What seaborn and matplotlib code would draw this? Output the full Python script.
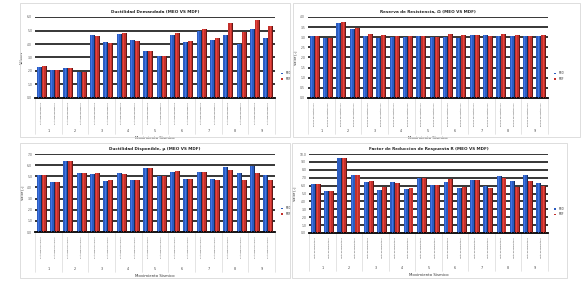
import numpy as np
import pandas as pd
import matplotlib
matplotlib.use("Agg")
import matplotlib.pyplot as plt
import seaborn as sns
from matplotlib.patches import Rectangle
from matplotlib.transforms import blended_transform_factory

sns.set_style("white")
plt.rcParams['font.family'] = ['DejaVu Sans']

sismos = ["1", "2", "3", "4", "5", "6", "7", "8", "9"]
metodos = ["MEO", "MDF"]

# Panel 1: Ductilidad Demandada
dd_labels = ["Ductilidad Demandada X", "Ductilidad Demandada Y"]
dd_meo = [2.30, 2.05, 2.25, 1.90, 4.70, 4.12, 4.77, 4.27, 3.46, 3.09, 4.64, 4.15, 4.99, 4.27, 4.64, 4.00, 5.11, 4.47]
dd_mdf = [2.35, 2.05, 2.25, 1.90, 4.57, 4.05, 4.79, 4.20, 3.46, 3.09, 4.81, 4.20, 5.09, 4.44, 5.56, 4.91, 5.75, 5.33]

# Panel 2: Reserva de Resistencia
rr_labels = ["Reserva de Resistencia ΩX", "Reserva de Resistencia ΩY"]
rr_meo = [3.04, 2.94, 3.72, 3.43, 3.08, 2.95, 2.99, 2.99, 3.04, 2.99, 3.00, 2.98, 3.13, 3.13, 3.08, 3.08, 3.08, 3.04]
rr_mdf = [3.04, 2.94, 3.75, 3.45, 3.14, 3.13, 3.05, 3.05, 3.04, 3.03, 3.14, 3.13, 3.13, 3.08, 3.15, 3.13, 3.08, 3.13]

# Panel 3: Ductilidad Disponible
du_labels = ["Ductilidad Disponible μX", "Ductilidad Disponible μY"]
du_meo = [5.09, 4.46, 6.38, 5.30, 5.24, 4.58, 5.33, 4.64, 5.75, 5.06, 5.39, 4.73, 5.42, 4.73, 5.87, 5.30, 5.93, 5.12]
du_mdf = [5.09, 4.46, 6.38, 5.30, 5.27, 4.70, 5.21, 4.70, 5.75, 5.06, 5.51, 4.73, 5.36, 4.67, 5.54, 4.70, 5.33, 4.70]

# Panel 4: Factor de Reduccion de Respuesta
fr_labels = ["Factor de Respuesta RX", "Factor de Respuesta RY"]
fr_meo = [6.15, 5.27, 9.50, 7.32, 6.40, 5.44, 6.40, 5.52, 6.99, 6.03, 6.44, 5.65, 6.74, 5.98, 7.24, 6.57, 7.28, 6.28]
fr_mdf = [6.15, 5.27, 9.50, 7.32, 6.57, 5.82, 6.36, 5.73, 6.99, 6.03, 6.86, 5.86, 6.69, 5.73, 6.99, 5.86, 6.57, 5.94]

titles = ["Ductilidad Demandada (MEO VS MDF)",
          "Reserva de Resistencia, Ω (MEO VS MDF)",
          "Ductilidad Disponible, μ (MEO VS MDF)",
          "Factor de Reduccion de Respuesta R (MEO VS MDF)"]
ylabels = ["Valores", "Valor [-]", "Valor [-]", "Valor [-]"]
yticks_list = [np.arange(0, 7, 1), np.arange(0, 4.01, 0.5), np.arange(0, 8, 1), np.arange(0, 11, 1)]

BLUE = "#2c5cc0"
RED = "#c3302b"

W, H = 581, 282
fig = plt.figure(figsize=(W / 100, H / 100), dpi=100)
fig.patch.set_facecolor("white")

# panel frames (pixels: x0, y0, x1, y1)
frames = [(20, 3, 290, 137), (293, 3, 580, 137), (20, 143, 290, 278), (292, 143, 567, 278)]
for x0, y0, x1, y1 in frames:
    fig.patches.append(Rectangle((x0 / W, 1 - y1 / H), (x1 - x0) / W, (y1 - y0) / H,
                                 transform=fig.transFigure, fill=False,
                                 edgecolor="#d8d8d8", linewidth=0.6))

# axes in pixels: left, top, right, bottom
boxes = [(35, 17, 275, 98), (308, 17, 548, 98), (35, 154, 275, 232), (309, 154, 548, 233)]
num_y = [-0.41, -0.41, -0.47, -0.44]
xl_y = [-0.49, -0.49, -0.56, -0.53]

data = [(dd_labels, dd_meo, dd_mdf), (rr_labels, rr_meo, rr_mdf),
        (du_labels, du_meo, du_mdf), (fr_labels, fr_meo, fr_mdf)]

for k, ((labs, meo, mdf), (l, t, r, b)) in enumerate(zip(data, boxes)):
    ax = fig.add_axes([l / W, 1 - b / H, (r - l) / W, (b - t) / H])
    cats = [f"{labs[j % 2]}|{sismos[j // 2]}" for j in range(len(meo))]
    df = pd.DataFrame({
        "cat": cats * 2,
        "val": meo + mdf,
        "met": [metodos[0]] * len(meo) + [metodos[1]] * len(mdf),
    })
    yt = yticks_list[k]
    for y in yt[1:]:
        ax.axhline(y, color="black", lw=1.1, zorder=0)
    sns.barplot(data=df, x="cat", y="val", hue="met", palette=[BLUE, RED],
                ax=ax, width=0.74, saturation=1, edgecolor="none", zorder=2,
                errorbar=None)
    # simple shading for a 3D-like look
    for p in list(ax.patches):
        x0, w_, h_ = p.get_x(), p.get_width(), p.get_height()
        c = np.array(p.get_facecolor()[:3])
        ax.add_patch(Rectangle((x0 + w_ * 0.82, 0), w_ * 0.18, h_,
                               facecolor=tuple(c * 0.5), edgecolor="none", zorder=3))
        ax.add_patch(Rectangle((x0 + w_ * 0.25, 0), w_ * 0.2, h_,
                               facecolor=tuple(np.clip(c * 1.25 + 0.08, 0, 1)), edgecolor="none",
                               alpha=0.6, zorder=3))
    ax.set_ylim(0, yt[-1])
    ax.set_xlim(-0.5, len(meo) - 0.5)
    ax.set_yticks(yt)
    ax.set_yticklabels([f"{v:.1f}" for v in yt], fontsize=2.2, color="#555555")
    ax.tick_params(axis="y", length=0, pad=2)
    ax.set_xticks(range(len(meo)))
    ax.set_xticklabels([c.split("|")[0] for c in cats], rotation=90, fontsize=1.3,
                       color="#444444", va="top")
    ax.tick_params(axis="x", length=0, pad=3)
    for s in ["top", "right", "left"]:
        ax.spines[s].set_visible(False)
    ax.spines["bottom"].set_color("black")
    ax.spines["bottom"].set_linewidth(1.3)
    ax.set_xlabel("")
    ax.set_ylabel(ylabels[k], fontsize=2.6, labelpad=2)
    ax.set_title(titles[k], fontsize=3.0, fontweight="bold", pad=3)
    trans = blended_transform_factory(ax.transData, ax.transAxes)
    for i in range(len(sismos) + 1):
        ax.plot([2 * i - 0.5, 2 * i - 0.5], [0, num_y[k] - 0.04], transform=trans,
                color="#d0d0d0", lw=0.4, clip_on=False)
    for i, s in enumerate(sismos):
        ax.text(2 * i + 0.5, num_y[k], s, transform=trans, fontsize=2.4,
                ha="center", va="center", color="#444444")
    ax.text(0.5, xl_y[k], "Movimiento Sismico", transform=ax.transAxes,
            fontsize=2.8, ha="center", va="center", color="#333333")
    leg = ax.legend(loc="center left", bbox_to_anchor=(1.015, 0.27), fontsize=1.8,
                    frameon=False, handlelength=1.0, handleheight=0.5, labelspacing=0.6)
    ax.set_facecolor("white")

fig.savefig("out.png", dpi=100, facecolor="white")
